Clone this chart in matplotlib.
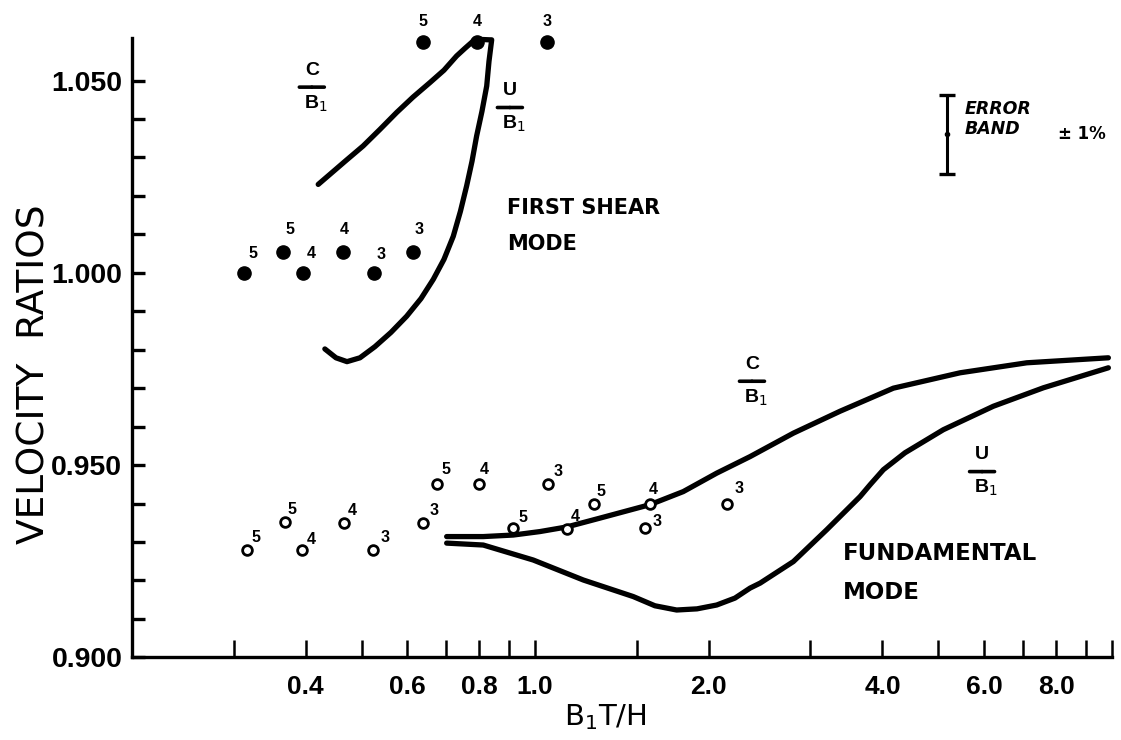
import numpy as np
import matplotlib
matplotlib.use("Agg")
import matplotlib.pyplot as plt

# first shear mode, measured (solid) points and their mode numbers
shear_x = [0.313, 0.366, 0.396, 0.464, 0.526, 0.615, 0.638, 0.792, 1.049]
shear_y = [1.000, 1.0055, 1.000, 1.0055, 1.000, 1.0055, 1.060, 1.060, 1.060]
shear_n = ["5", "5", "4", "4", "3", "3", "5", "4", "3"]

# fundamental mode, measured (open) points and their mode numbers
fund_x = [0.317, 0.368, 0.395, 0.466, 0.523, 0.638, 0.677, 0.799, 1.054,
          0.916, 1.134, 1.266, 1.582, 1.550, 2.148]
fund_y = [0.928, 0.9353, 0.928, 0.935, 0.928, 0.935, 0.945, 0.945, 0.945,
          0.9336, 0.9333, 0.9398, 0.940, 0.9336, 0.940]
fund_n = ["5", "5", "4", "4", "3", "3", "5", "4", "3",
          "5", "4", "5", "4", "3", "3"]

# theory curves, first shear mode
shear_c_x = [0.4206, 0.4406, 0.4698, 0.5032, 0.5381, 0.5752, 0.6140, 0.6572,
             0.6948, 0.7307, 0.7556, 0.7810, 0.8054, 0.8348]
shear_c_y = [1.0230, 1.0256, 1.0292, 1.0330, 1.0373, 1.0417, 1.0457, 1.0495,
             1.0527, 1.0564, 1.0584, 1.0603, 1.0607, 1.0606]
shear_u_x = [0.8406, 0.8316, 0.8241, 0.8086, 0.7916, 0.7771, 0.7606, 0.7420,
             0.7211, 0.6948, 0.6658, 0.6339, 0.5986, 0.5623, 0.5275, 0.4969,
             0.4718, 0.4515, 0.4319]
shear_u_y = [1.0606, 1.0550, 1.0486, 1.0420, 1.0356, 1.0290, 1.0226, 1.0160,
             1.0095, 1.0035, 0.9983, 0.9933, 0.9887, 0.9845, 0.9808, 0.9779,
             0.9769, 0.9779, 0.9802]

# theory curves, fundamental mode
fund_c_x = [0.7023, 0.8128, 0.9163, 1.019, 1.134, 1.295, 1.581, 1.806, 2.064,
            2.358, 2.803, 3.377, 4.178, 5.453, 7.116, 9.856]
fund_c_y = [0.9314, 0.9314, 0.9318, 0.9327, 0.9339, 0.9362, 0.9397, 0.9431,
            0.9479, 0.9522, 0.9583, 0.9640, 0.9700, 0.9740, 0.9766, 0.9779]
fund_u_x = [0.7023, 0.8128, 0.9924, 1.212, 1.479, 1.613, 1.759, 1.908, 2.064,
            2.220, 2.358, 2.455, 2.803, 3.203, 3.658, 3.808, 4.015, 4.377,
            5.101, 6.228, 7.604, 9.856]
fund_u_y = [0.9297, 0.9292, 0.9253, 0.9201, 0.9158, 0.9134, 0.9123, 0.9126,
            0.9136, 0.9154, 0.9180, 0.9193, 0.9249, 0.9332, 0.9418, 0.9449,
            0.9488, 0.9532, 0.9592, 0.9653, 0.9701, 0.9753]

# error band: +-1 % about its centre
err_x = 5.17
err_y = 1.036
err_pct = 0.01

x_ticks = [0.3, 0.4, 0.5, 0.6, 0.7, 0.8, 0.9, 1.0, 1.5, 2.0, 3.0, 4.0, 5.0,
           6.0, 7.0, 8.0, 9.0, 10.0]
x_labelled = [0.4, 0.6, 0.8, 1.0, 2.0, 4.0, 6.0, 8.0]
y_ticks = [0.90, 0.91, 0.92, 0.93, 0.94, 0.95, 0.96, 0.97, 0.98, 0.99, 1.00,
           1.01, 1.02, 1.03, 1.04, 1.05]
y_labelled = [0.900, 0.950, 1.000, 1.050]

# label offsets (points) for the mode numbers
shear_off = [(6, 14), (5, 16), (6, 14), (1, 16), (5, 13), (4, 16),
             (0, 15), (0, 15), (0, 15)]
fund_off = [(6, 9), (5, 9), (6, 7), (6, 9), (9, 9), (8, 9), (6, 11), (4, 11),
            (7, 9), (7, 8), (6, 9), (5, 9), (2, 10), (9, 5), (9, 11)]

BOLD = ["Liberation Sans", "DejaVu Sans"]

fig = plt.figure(figsize=(11.21, 7.40), dpi=100)
ax = fig.add_axes([132 / 1121, 82.7 / 740, 980 / 1121, 619 / 740])
ax.set_xscale("log")
ax.set_xlim(0.2, 10)
ax.set_ylim(0.900, 1.061)

for s in ["top", "right"]:
    ax.spines[s].set_visible(False)
for s in ["left", "bottom"]:
    ax.spines[s].set_linewidth(2.4)

ax.set_xticks(x_ticks)
ax.set_xticklabels(["%.1f" % t if t in x_labelled else "" for t in x_ticks])
ax.xaxis.set_minor_locator(matplotlib.ticker.NullLocator())
ax.set_yticks(y_ticks)
ax.set_yticklabels(["%.3f" % t if any(abs(t - v) < 1e-9 for v in y_labelled)
                    else "" for t in y_ticks])
ax.tick_params(axis="x", direction="in", length=12, width=1.8, pad=13,
               labelsize=19)
ax.tick_params(axis="y", direction="in", length=9, width=2.4, pad=7,
               labelsize=20.5)
for lab in ax.get_xticklabels() + ax.get_yticklabels():
    lab.set_fontweight("bold")
    lab.set_family(BOLD)

line_kw = dict(color="black", lw=3.8, solid_capstyle="round",
               solid_joinstyle="round", clip_on=False)
ax.plot(shear_c_x, shear_c_y, **line_kw)
ax.plot(shear_u_x, shear_u_y, **line_kw)
ax.plot(fund_c_x, fund_c_y, **line_kw)
ax.plot(fund_u_x, fund_u_y, **line_kw)

ax.plot(shear_x, shear_y, "o", color="black", ms=9.5, zorder=5,
        clip_on=False)
ax.plot(fund_x, fund_y, "o", mfc="white", mec="black", ms=7, mew=2, zorder=5)

num_kw = dict(textcoords="offset points", ha="center", va="center",
              fontsize=11.5, fontweight="bold", family=BOLD)
for x, y, n, off in zip(shear_x, shear_y, shear_n, shear_off):
    ax.annotate(n, (x, y), xytext=off, **num_kw)
for x, y, n, off in zip(fund_x, fund_y, fund_n, fund_off):
    ax.annotate(n, (x, y), xytext=off, **num_kw)


def ratio_label(x, y, top):
    # stacked "top / B1" label with a short bar, centred on (x, y)
    kw = dict(ha="center", va="center", fontsize=14, fontweight="bold",
              family=BOLD)
    ax.annotate(top, (x, y), xytext=(0, 12), textcoords="offset points", **kw)
    ax.annotate(r"B$_{\mathit{1}}$", (x, y), xytext=(3, -12),
                textcoords="offset points", **kw)
    for side in (-9, 9):
        ax.annotate("", (x, y), xytext=(side, 0), textcoords="offset points",
                    arrowprops=dict(arrowstyle="-", lw=2.6, color="black",
                                    shrinkA=0, shrinkB=0))


ratio_label(0.410, 1.0483, "C")
ratio_label(0.904, 1.0430, "U")
ratio_label(2.376, 0.9718, "C")
ratio_label(5.953, 0.9483, "U")

mode_kw = dict(fontweight="bold", family=["DejaVu Sans"], va="top",
               ha="left")
ax.text(0.894, 1.0194, "FIRST SHEAR\nMODE", fontsize=15, linespacing=2.0,
        **mode_kw)
ax.text(3.418, 0.9300, "FUNDAMENTAL\nMODE", fontsize=16.5, linespacing=1.9,
        **mode_kw)

# error band
ax.errorbar([err_x], [err_y], yerr=[err_y * err_pct], fmt="o", color="black",
            ms=3, lw=2.2, capsize=6, capthick=2.4)
ax.text(5.55, 1.0400, "ERROR\nBAND", fontsize=12.5, style="italic",
        fontweight="bold", family=["DejaVu Sans"], va="center", ha="left",
        linespacing=1.1)
ax.text(8.06, 1.0362, "\u00b1 1%", fontsize=12, fontweight="bold",
        family=["DejaVu Sans"], va="center", ha="left")

fig.text(35 / 1121, 1 - 374 / 740, "VELOCITY  RATIOS", rotation=90,
         ha="center", va="center", fontsize=27, family=["DejaVu Sans"])
fig.text(605 / 1121, 1 - 717 / 740, r"B$_{\mathregular{1}}$T/H",
         ha="center", va="center", fontsize=21, family=["DejaVu Sans"])

fig.savefig("out.png", dpi=100)
